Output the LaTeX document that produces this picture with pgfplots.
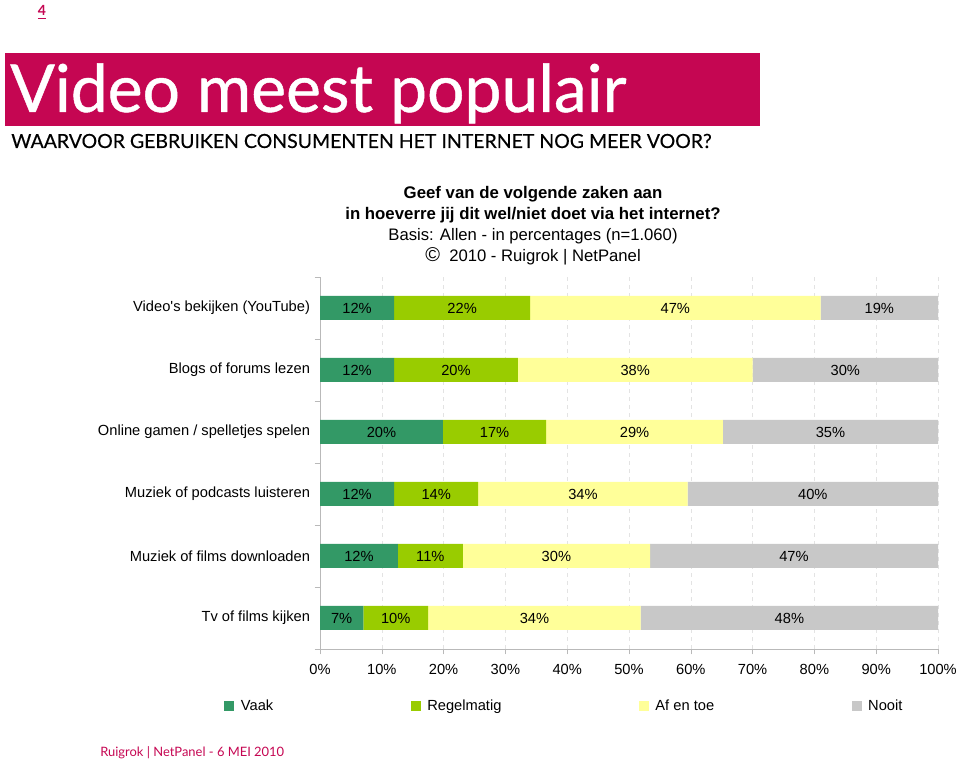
\documentclass[border=0pt]{standalone}
\usepackage{pgfplots}
\pgfplotsset{compat=1.18}
\usepackage{pgfplotstable}
\usepackage{fontspec}
\setmainfont{Liberation Sans}
\newfontfamily\latofont{Lato}
\newfontfamily\latotitle[FakeBold=0.7]{Lato}
\newfontfamily\latosub[FakeBold=0.35]{Lato}
\definecolor{brand}{RGB}{197,6,82}
\definecolor{vaak}{RGB}{51,153,102}
\definecolor{regel}{RGB}{153,204,0}
\definecolor{afentoe}{RGB}{255,255,153}
\definecolor{nooit}{RGB}{200,200,200}

% y: category position; a..d: segment widths (Vaak, Regelmatig, Af en toe, Nooit); la..ld: printed labels
\pgfplotstableread{
y a b c d la lb lc ld
5 12 22 47 19 12 22 47 19
4 12 20 38 30 12 20 38 30
3 19.9 16.7 28.6 34.8 20 17 29 35
2 12 13.6 33.9 40.5 12 14 34 40
1 12.6 10.5 30.3 46.6 12 11 30 47
0 7 10.5 34.4 48.1 7 10 34 48
}\datatab

\pgfplotsset{
  common/.style={
    at={(240pt,87.75pt)}, anchor=south west,
    scale only axis, width=463.5pt, height=279pt,
    xmin=0, xmax=100, ymin=-0.5, ymax=5.5,
  },
}

\begin{document}
\begin{tikzpicture}[x=0.75pt,y=0.75pt]
\useasboundingbox (0,0) rectangle (960,766);
% page number
\node[anchor=base, inner sep=0, text=brand, font=\latofont\bfseries\fontsize{10.5}{12}\selectfont] at (42,750) {\underline{4}};
% banner
\fill[brand] (5,713) rectangle (760,640);
\node[anchor=base west, inner sep=0, text=white, font=\latotitle\fontsize{49.5}{50}\selectfont] at (10,654) {Video meest populair};
\node[anchor=base west, inner sep=0, font=\latosub\fontsize{14.6}{16}\selectfont] at (11,618) {WAARVOOR GEBRUIKEN CONSUMENTEN HET INTERNET NOG MEER VOOR?};
% question block
\node[anchor=base, inner sep=0, font=\bfseries\fontsize{12.6}{14}\selectfont] at (533,567) {Geef van de volgende zaken aan};
\node[anchor=base, inner sep=0, font=\bfseries\fontsize{12.6}{14}\selectfont] at (533,546) {in hoeverre jij dit wel/niet doet via het internet?};
\node[anchor=base, inner sep=0, font=\fontsize{12.5}{14}\selectfont] at (533,525) {Basis: Allen - in percentages (n=1.060)};
\node[anchor=base, inner sep=0, font=\fontsize{12.5}{14}\selectfont] at (533,504) {{\fontsize{15}{15}\selectfont\textcopyright}\ \ 2010 - Ruigrok | NetPanel};
% footer
\node[anchor=base west, inner sep=0, text=brand, font=\latofont\fontsize{9.7}{10}\selectfont] at (100,9) {Ruigrok | NetPanel - 6 MEI 2010};

\begin{axis}[
  common,
  xbar stacked, bar width=18pt,
  xtick={0,10,...,100},
  xticklabel={\pgfmathprintnumber{\tick}\%},
  xticklabel style={yshift=-4pt},
  ytick={0,...,5},
  yticklabels={Tv of films kijken, Muziek of films downloaden, Muziek of podcasts luisteren, Online gamen / spelletjes spelen, Blogs of forums lezen, Video\textquotesingle s bekijken (YouTube)},
  minor ytick={-0.5,0.5,...,5.5},
  axis x line*=bottom, axis y line*=left,
  axis line style={-, gray!55},
  major y tick style={draw=none},
  minor y tick style={draw=gray!55},
  major x tick style={draw=gray!55},
  tick align=outside, major tick length=4pt, minor tick length=4pt,
  xmajorgrids, grid style={dashed, gray!22},
  tick label style={font=\fontsize{11}{13}\selectfont},
  /pgf/number format/assume math mode=true,
  legend columns=4,
  legend style={at={(axis description cs:0,0)}, anchor=west, xshift=-72pt, yshift=-42.75pt, draw=none, fill=none, inner sep=0pt, font=\fontsize{11}{13}\selectfont, /tikz/every odd column/.append style={column sep=3pt}, /tikz/every even column/.append style={column sep=101pt}},
  sqleg/.style={legend image code/.code={\fill[##1] (0pt,-3.75pt) rectangle (7.5pt,3.75pt);}},
]
\addplot[fill=vaak, draw=none, sqleg] table[x=a,y=y]{\datatab};
\addplot[fill=regel, draw=none, sqleg] table[x=b,y=y]{\datatab};
\addplot[fill=afentoe, draw=none, sqleg] table[x=c,y=y]{\datatab};
\addplot[fill=nooit, draw=none, sqleg] table[x=d,y=y]{\datatab};
\legend{Vaak, Regelmatig, Af en toe, Nooit}
\end{axis}

% value labels, centred in each segment
\begin{axis}[
  common, hide axis, clip=false,
  point meta=explicit symbolic,
  nodes near coords={\pgfplotspointmeta\%},
  nodes near coords align={center},
  every node near coord/.append style={anchor=center, font=\fontsize{11}{13}\selectfont, text=black},
]
\addplot[only marks, mark=none] table[x expr=\thisrow{a}/2, y=y, meta=la]{\datatab};
\addplot[only marks, mark=none] table[x expr=\thisrow{a}+\thisrow{b}/2, y=y, meta=lb]{\datatab};
\addplot[only marks, mark=none] table[x expr=\thisrow{a}+\thisrow{b}+\thisrow{c}/2, y=y, meta=lc]{\datatab};
\addplot[only marks, mark=none] table[x expr=\thisrow{a}+\thisrow{b}+\thisrow{c}+\thisrow{d}/2, y=y, meta=ld]{\datatab};
\end{axis}
\end{tikzpicture}
\end{document}
